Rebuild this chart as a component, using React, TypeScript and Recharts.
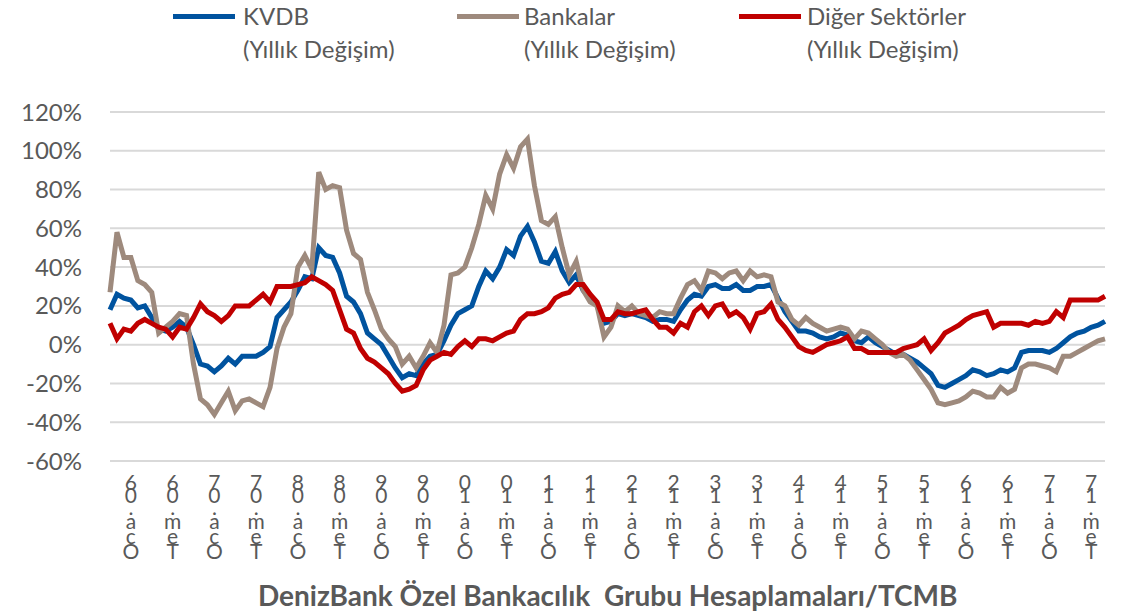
import React from "react";
import { LineChart, Line, XAxis, YAxis, CartesianGrid } from "recharts";

// months from Eki.05 to Eyl.17
const MONTHS = ["Oca", "Şub", "Mar", "Nis", "May", "Haz", "Tem", "Ağu", "Eyl", "Eki", "Kas", "Ara"];
const START_MONTH = 9;
const START_YEAR = 5;
const POINTS = 144;

const categories: string[] = Array.from({ length: POINTS }, (_, i) => {
  const m = (START_MONTH + i) % 12;
  const y = START_YEAR + Math.floor((START_MONTH + i) / 12);
  return `${MONTHS[m]}.${String(y).padStart(2, "0")}`;
});

const kvdb = [
  18, 26, 24, 23, 19, 20, 14, 8, 7, 9, 12, 9, 0, -10, -11, -14, -11, -7, -10, -6,
  -6, -6, -4, -1, 14, 18, 22, 28, 35, 34, 50, 46, 45, 37, 25, 22, 16, 6, 3, 0,
  -6, -12, -17, -15, -16, -10, -6, -5, 2, 10, 16, 18, 20, 30, 38, 34, 40, 49, 46, 56,
  61, 53, 43, 42, 48, 38, 32, 36, 28, 24, 20, 11, 12, 16, 15, 16, 15, 14, 12, 13,
  13, 12, 18, 23, 26, 25, 30, 31, 29, 29, 31, 28, 28, 30, 30, 31, 24, 17, 12, 7,
  7, 6, 4, 3, 4, 6, 5, 2, 1, 4, 1, -1, -3, -5, -5, -7, -9, -12, -15, -21,
  -22, -20, -18, -16, -13, -14, -16, -15, -13, -14, -12, -4, -3, -3, -3, -4, -2, 1, 4, 6,
  7, 9, 10, 12,
];

const bankalar = [
  27, 58, 45, 45, 33, 31, 27, 6, 9, 12, 16, 15, -10, -28, -31, -36, -30, -24, -34, -29,
  -28, -30, -32, -22, -2, 9, 16, 40, 46, 39, 89, 80, 82, 81, 59, 47, 44, 27, 18, 8,
  3, -1, -10, -6, -12, -6, 1, -4, 10, 36, 37, 40, 50, 62, 77, 70, 88, 98, 91, 102,
  106, 82, 64, 62, 66, 50, 36, 43, 28, 22, 20, 4, 9, 20, 17, 20, 16, 15, 14, 17,
  16, 16, 24, 31, 33, 28, 38, 37, 34, 37, 38, 33, 38, 35, 36, 35, 22, 20, 13, 10,
  14, 11, 9, 7, 8, 9, 8, 3, 7, 6, 3, 0, -4, -6, -5, -8, -13, -18, -23, -30,
  -31, -30, -29, -27, -24, -25, -27, -27, -22, -25, -23, -12, -10, -10, -11, -12, -14, -6, -6, -4,
  -2, 0, 2, 3,
];

const digerSektorler = [
  11, 3, 8, 7, 11, 13, 11, 9, 8, 4, 9, 8, 14, 21, 17, 15, 12, 15, 20, 20,
  20, 23, 26, 22, 30, 30, 30, 31, 32, 35, 33, 31, 28, 18, 8, 6, -2, -7, -9, -12,
  -15, -20, -24, -23, -21, -13, -8, -6, -4, -5, -1, 2, -1, 3, 3, 2, 4, 6, 7, 13,
  16, 16, 17, 19, 24, 26, 27, 31, 31, 26, 22, 13, 13, 17, 16, 16, 17, 18, 13, 9,
  9, 6, 11, 9, 17, 20, 15, 20, 21, 15, 17, 14, 8, 16, 17, 21, 13, 9, 4, -1,
  -3, -4, -2, 0, 1, 2, 4, -2, -2, -4, -4, -4, -4, -4, -2, -1, 0, 3, -3, 1,
  6, 8, 10, 13, 15, 16, 17, 9, 11, 11, 11, 11, 10, 12, 11, 12, 17, 14, 23, 23,
  23, 23, 23, 25,
];

const yTicks = [-60, -40, -20, 0, 20, 40, 60, 80, 100, 120];

const SERIES = [
  { key: "kvdb", name: "KVDB", color: "#00539f" },
  { key: "bankalar", name: "Bankalar", color: "#9e8a7d" },
  { key: "diger", name: "Diğer Sektörler", color: "#c00000" },
];

const data = categories.map((c, i) => ({
  date: c,
  kvdb: kvdb[i],
  bankalar: bankalar[i],
  diger: digerSektorler[i],
}));

const TEXT = "#595959";
const FONT = "Lato, 'Open Sans', sans-serif";

// stacked label, chars from bottom to top like the original
const CHAR_DY = [29, 13, 12, 14, 15, 15];

function DateTick(props: any) {
  const { x, y, payload } = props;
  const v: string = payload.value;
  if (!(v.startsWith("Oca") || v.startsWith("Tem"))) return null;
  const chars = v.split("").reverse();
  return (
    <text x={x} y={y} textAnchor="middle" fill={TEXT} fontSize={21} fontFamily={FONT}>
      {chars.map((ch, i) => (
        <tspan key={i} x={x} dy={CHAR_DY[i]}>
          {ch}
        </tspan>
      ))}
    </text>
  );
}

const legendPos = [
  { line: 173, text: 243 },
  { line: 457, text: 524 },
  { line: 739, text: 807 },
];

function TopLegend() {
  return (
    <div style={{ position: "absolute", left: 0, top: 0, width: 1145, height: 70, fontFamily: FONT, color: TEXT, fontSize: 24 }}>
      {SERIES.map((s, i) => (
        <React.Fragment key={s.key}>
          <div
            style={{
              position: "absolute",
              left: legendPos[i].line,
              top: 14,
              width: 62,
              height: 5,
              background: s.color,
            }}
          />
          <div style={{ position: "absolute", left: legendPos[i].text, top: -1, lineHeight: "33px", whiteSpace: "nowrap" }}>
            {s.name}
            <br />
            (Yıllık Değişim)
          </div>
        </React.Fragment>
      ))}
    </div>
  );
}

export default function App() {
  return (
    <div style={{ position: "absolute", left: 0, top: 0, width: 1145, height: 615, background: "#fff" }}>
      <LineChart
        width={1145}
        height={615}
        data={data}
        margin={{ top: 112, right: 40, left: 0, bottom: 0 }}
      >
        <CartesianGrid vertical={false} stroke="#d9d9d9" strokeWidth={2} />
        <XAxis
          dataKey="date"
          interval={0}
          height={154}
          tick={<DateTick />}
          tickLine={false}
          axisLine={false}
          tickSize={0}
          tickMargin={0}
        />
        <YAxis
          domain={[-60, 120]}
          ticks={yTicks}
          width={110}
          tickFormatter={(v) => `${v}%`}
          tick={{ fill: TEXT, fontSize: 24, fontFamily: FONT }}
          axisLine={false}
          tickLine={false}
          tickSize={0}
          tickMargin={28}
        />
        {SERIES.map((s) => (
          <Line
            key={s.key}
            dataKey={s.key}
            name={s.name}
            stroke={s.color}
            strokeWidth={5}
            dot={false}
            type="linear"
            isAnimationActive={false}
          />
        ))}
      </LineChart>
      <TopLegend />
      <div
        style={{
          position: "absolute",
          left: 258,
          top: 578,
          fontFamily: FONT,
          fontWeight: 700,
          fontSize: 28,
          color: TEXT,
          whiteSpace: "pre",
        }}
      >
        {"DenizBank Özel Bankacılık  Grubu Hesaplamaları/TCMB"}
      </div>
    </div>
  );
}
